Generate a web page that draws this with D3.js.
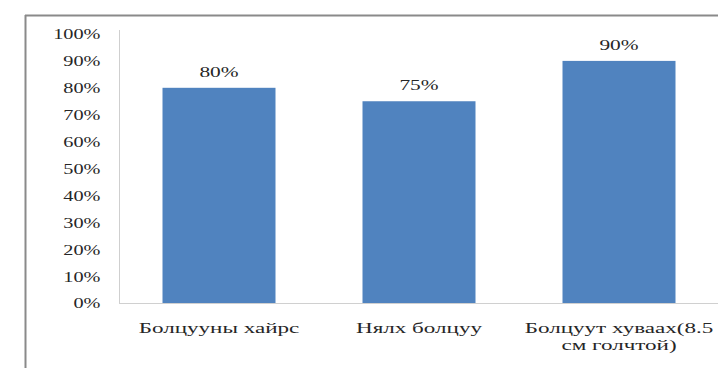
<!DOCTYPE html>
<html>
<head>
<meta charset="utf-8">
<script src="https://cdn.jsdelivr.net/npm/d3@7"></script>
<style>
  html, body { margin: 0; padding: 0; background: #fff; }
  svg { display: block; }
  text { font-family: "Liberation Serif", "Times New Roman", serif; fill: #262626; }
</style>
</head>
<body>
<svg id="chart" width="718" height="368"></svg>
<script>
// Chart data
const categories = [["Болцууны хайрс"], ["Нялх болцуу"], ["Болцуут хуваах(8.5", "см голчтой)"]];
const values = [80, 75, 90];
const yTicks = [0, 10, 20, 30, 40, 50, 60, 70, 80, 90, 100];

const W = 718, H = 368;
// wide serif lettering
const tickStretch = 1.45, valueStretch = 1.53, catStretch = 1.65;
const svg = d3.select("#chart");

const plot = { left: 119, right: 719, top: 34, bottom: 303 };

const x = d3.scaleBand()
  .domain(d3.range(values.length))
  .range([plot.left, plot.right])
  .paddingInner(0.435)
  .paddingOuter(0.2175);

const y = d3.scaleLinear()
  .domain([0, 100])
  .range([plot.bottom, plot.top]);

// Outer frame
svg.append("line")
  .attr("x1", 25.5).attr("x2", 25.5).attr("y1", 15).attr("y2", H)
  .attr("stroke", "#8a8a8a").attr("stroke-width", 2);
svg.append("line")
  .attr("x1", 25).attr("x2", W).attr("y1", 15.5).attr("y2", 15.5)
  .attr("stroke", "#8a8a8a").attr("stroke-width", 2);

// Baseline
svg.append("line")
  .attr("x1", plot.left).attr("x2", W)
  .attr("y1", y(0) + 0.5).attr("y2", y(0) + 0.5)
  .attr("stroke", "#d0d0d0").attr("stroke-width", 1);

// Y axis
const yAxis = svg.append("g")
  .attr("transform", `translate(${plot.left + 0.5},0)`)
  .call(d3.axisLeft(y).tickValues(yTicks).tickSize(0).tickFormat(d => d + "%"));
yAxis.attr("font-family", null);
yAxis.select(".domain")
  .attr("d", `M0,${y(100) - 4}V${y(0)}`)
  .attr("stroke", "#cfcfcf");
yAxis.selectAll(".tick text")
  .attr("x", null)
  .attr("dy", "0.35em")
  .attr("text-anchor", "end")
  .attr("transform", `translate(-19,0) scale(${tickStretch},1)`)
  .style("font-size", "14px")
  .attr("fill", "#262626");

// Bars
svg.append("g").selectAll("rect")
  .data(values)
  .join("rect")
  .attr("x", (d, i) => x(i))
  .attr("width", x.bandwidth())
  .attr("y", d => y(d))
  .attr("height", d => y(0) - y(d))
  .attr("fill", "#5083bf");

// Value labels
svg.append("g").selectAll("text")
  .data(values)
  .join("text")
  .attr("text-anchor", "middle")
  .attr("transform", (d, i) => `translate(${x(i) + x.bandwidth() / 2},${y(d) - 11}) scale(${valueStretch},1)`)
  .style("font-size", "14px")
  .text(d => d + "%");

// Category labels
const cat = svg.append("g").selectAll("text")
  .data(categories)
  .join("text")
  .attr("text-anchor", "middle")
  .attr("transform", (d, i) => `translate(${x(i) + x.bandwidth() / 2},${plot.bottom + 30}) scale(${catStretch},1)`)
  .style("font-size", "14px");
cat.selectAll("tspan")
  .data(d => d)
  .join("tspan")
  .attr("x", 0)
  .attr("dy", (d, j) => j === 0 ? 0 : 17)
  .text(d => d);
</script>
</body>
</html>
